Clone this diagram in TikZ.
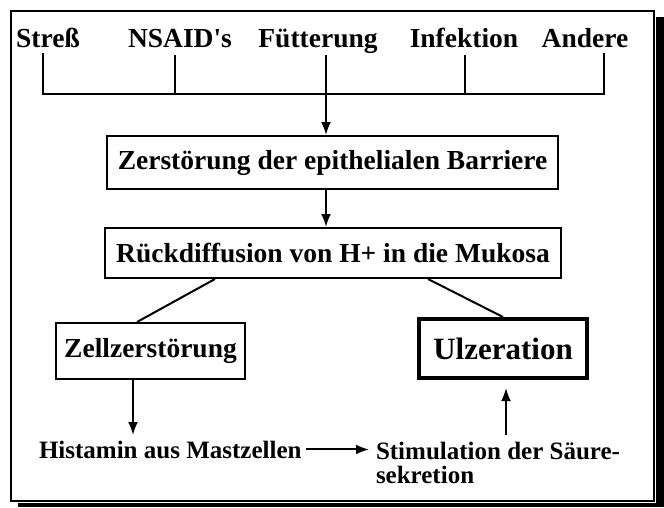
\documentclass[tikz,border=0pt]{standalone}
\usepackage{fontspec}
\setmainfont{Liberation Serif}
\usetikzlibrary{positioning}
\usetikzlibrary{arrows.meta}
\tikzset{
    boxnode/.style = {rectangle, draw=black, line width=2pt, align=center, inner sep=0pt, font=\fontsize{27.5}{33}\selectfont\bfseries},
    bignode/.style = {rectangle, draw=black, line width=4pt, align=center, inner sep=0pt, font=\fontsize{31}{37}\selectfont\bfseries},
    topnode/.style = {anchor=base, inner sep=0pt, font=\fontsize{27.5}{33}\selectfont\bfseries},
    txtnode/.style = {inner sep=0pt, align=left, font=\fontsize{25}{24}\selectfont\bfseries},
}

\begin{document}
\begin{tikzpicture}[
	x=1pt,
	y=-1pt,
	line width=2pt
]
\tikzset{
    edgen/.style = {-},
    edgea/.style = {-{Latex[length=13pt,width=10pt]}},
}
\useasboundingbox (0,0) rectangle (664,507);
% frame with shadow
\fill[black] (18,17) rectangle (664,507);
\fill[white] (9,9) rectangle (656,503);
\draw (11,11) rectangle (654,501);
%
\node[topnode] at (48,47) (stress) {Streß};
\node[topnode] at (180,47) (nsaid) {NSAID\textquotesingle s};
\node[topnode] at (318,47) (fuett) {Fütterung};
\node[topnode] at (464,47) (infekt) {Infektion};
\node[topnode] at (585,47) (andere) {Andere};
%
\node[boxnode, minimum width=451, minimum height=53] at (332.5,162.5) (box1) {Zerstörung der epithelialen Barriere};
\node[boxnode, minimum width=456, minimum height=50] at (333,253) (box2) {Rückdiffusion von H+ in die Mukosa};
\node[boxnode, minimum width=189, minimum height=56] at (150.5,351) (zell) {Zellzerstörung};
\node[bignode, minimum width=168, minimum height=59] at (503,348.5) (ulz) {Ulzeration};
%
\node[txtnode, anchor=base west] at (38,458) (hist) {Histamin aus Mastzellen};
\node[txtnode, anchor=north west] at (375,441) (stim) {Stimulation der Säure-\\sekretion};
%
\coordinate (sx) at (43,53);
\coordinate (nx) at (175,55);
\coordinate (fx) at (326,55);
\coordinate (ix) at (465,55);
\coordinate (ax) at (604,53);
\coordinate (bar) at (0,94);
\coordinate (lz) at (215,0);
\coordinate (lzz) at (137,0);
\coordinate (ru) at (428,0);
\coordinate (zh) at (133,435);
\coordinate (su) at (506,435);
%
\draw[edgen] (sx) -- (sx |- bar) -- (ax |- bar) -- (ax);
\draw[edgen] (nx) -- (nx |- bar);
\draw[edgen] (ix) -- (ix |- bar);
\draw[edgea] (fx) -- (fx |- box1.north);
\draw[edgea] (box1.south -| fx) -- (box2.north -| fx);
%
\draw[edgen] (box2.south -| lz) -- (zell.north -| lzz);
\draw[edgen] (box2.south -| ru) -- (ulz.north);
%
\draw[edgea] (zell.south -| zh) -- (zh);
\draw[edgea, shorten >=8pt] (su) -- (su |- ulz.south);
\draw[edgea, shorten <=4pt, shorten >=6pt] (hist.east) -- (hist.east -| stim.west);
\end{tikzpicture}
\end{document}
